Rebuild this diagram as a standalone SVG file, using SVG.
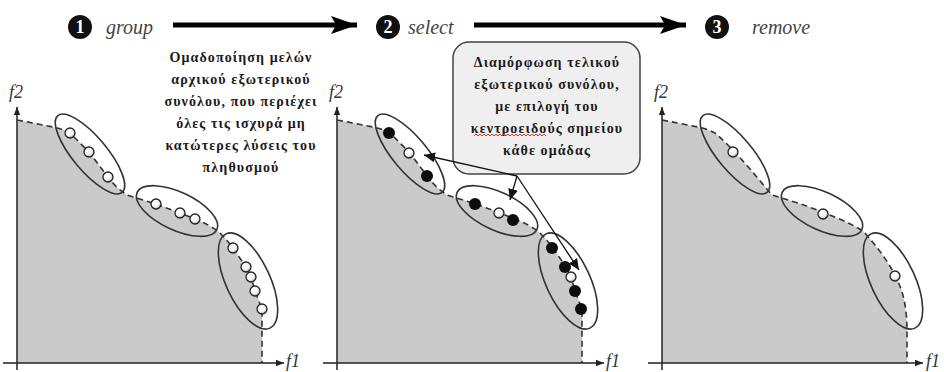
<svg xmlns="http://www.w3.org/2000/svg" width="944" height="372" viewBox="0 0 944 372">
<defs>
<style>
.axis{stroke:#222;stroke-width:1.5;fill:none}
.front{stroke:#333;stroke-width:1.6;stroke-dasharray:6 4;fill:none}
.shade{fill:#cacaca}
.ell{fill:none;stroke:#333;stroke-width:1.6}
.wp{fill:url(#wg);stroke:#222;stroke-width:1.3}
.bp{fill:#0d0d0d}
.lab{font-family:"Liberation Serif","Times New Roman",serif;font-style:italic;font-size:18px;fill:#333}
.step{font-family:"Liberation Serif","Times New Roman",serif;font-style:italic;font-size:20px;fill:#444}
.num{font-family:"Liberation Serif","Times New Roman",serif;font-weight:bold;font-size:18px;fill:#fff;text-anchor:middle}
.gr{font-family:"Liberation Serif","Times New Roman","DejaVu Serif",serif;font-weight:bold;font-size:14px;fill:#1a1a1a;text-anchor:middle;letter-spacing:1.1px}
.big{stroke:#000;stroke-width:5;fill:none}
.ann{stroke:#111;stroke-width:1.3;fill:none}
</style>
<radialGradient id="wg" cx="0.4" cy="0.35" r="0.7">
<stop offset="0" stop-color="#ffffff"/>
<stop offset="0.6" stop-color="#f4f4f4"/>
<stop offset="1" stop-color="#999"/>
</radialGradient>
<marker id="sa" viewBox="0 0 10 10" refX="10" refY="5" markerWidth="8" markerHeight="8" markerUnits="userSpaceOnUse" orient="auto">
<path d="M0,1 L10,5 L0,9 Z" fill="#222"/>
</marker>
<marker id="ah" viewBox="0 0 10 10" refX="10" refY="5" markerWidth="11" markerHeight="11" markerUnits="userSpaceOnUse" orient="auto">
<path d="M0,0.5 L10,5 L0,9.5 Z" fill="#111"/>
</marker>
<marker id="bh" viewBox="0 0 10 10" refX="10" refY="5" markerWidth="26" markerHeight="18" markerUnits="userSpaceOnUse" orient="auto" preserveAspectRatio="none">
<path d="M0,0 L10,5 L0,10 L2,5 Z" fill="#000"/>
</marker>
</defs>

<g id="steps">
<g id="step1"><circle cx="80" cy="27" r="12" fill="#111"/><text class="num" x="80" y="33">1</text><text class="step" x="106" y="34">group</text></g>
<g id="step2"><circle cx="388" cy="27" r="12" fill="#111"/><text class="num" x="388" y="33">2</text><text class="step" x="408" y="34">select</text></g>
<g id="step3"><circle cx="717" cy="27" r="12" fill="#111"/><text class="num" x="717" y="33">3</text><text class="step" x="752" y="34">remove</text></g>
</g>

<g id="panel1">
<path class="shade" d="M17,120 L53,127 Q62,129 70,133 L89,152 L108,177 Q116,188 127,195 L156,204 L180,213 L195,219 Q210,225 219,232 Q228,241 233,248 L246,267 L251,277 L255,291 L262,309 L262,363 L17,363 Z"/>
<path class="front" d="M17,120 L53,127 Q62,129 70,133 L89,152 L108,177 Q116,188 127,195 L156,204 L180,213 L195,219 Q210,225 219,232 Q228,241 233,248 L246,267 L251,277 L255,291 L262,309 L262,363"/>
<path class="axis" d="M17,370 L17,107" marker-end="url(#sa)"/>
<path class="axis" d="M3,363 L284,363" marker-end="url(#sa)"/>
<text class="lab" x="9" y="98">f2</text>
<text class="lab" x="286" y="367">f1</text>
<ellipse class="ell" cx="90" cy="154" rx="50" ry="17" transform="rotate(50 90 154)"/>
<ellipse class="ell" cx="177" cy="211" rx="44" ry="19" transform="rotate(25 177 211)"/>
<ellipse class="ell" cx="248" cy="281" rx="52" ry="22" transform="rotate(65 248 281)"/>
<circle class="wp" cx="70" cy="133" r="5"/>
<circle class="wp" cx="89" cy="152" r="5"/>
<circle class="wp" cx="108" cy="177" r="5"/>
<circle class="wp" cx="156" cy="204" r="5"/>
<circle class="wp" cx="180" cy="213" r="5"/>
<circle class="wp" cx="195" cy="219" r="5"/>
<circle class="wp" cx="233" cy="248" r="5"/>
<circle class="wp" cx="246" cy="267" r="5"/>
<circle class="wp" cx="251" cy="277" r="5"/>
<circle class="wp" cx="255" cy="291" r="5"/>
<circle class="wp" cx="262" cy="309" r="5"/>
</g>

<g id="panel2" transform="translate(320,0)">
<path class="shade" d="M17,120 L53,127 Q62,129 70,133 L89,152 L108,177 Q116,188 127,195 L156,204 L180,213 L195,219 Q210,225 219,232 Q228,241 233,248 L246,267 L251,277 L255,291 L262,309 L262,363 L17,363 Z"/>
<path class="front" d="M17,120 L53,127 Q62,129 70,133 L89,152 L108,177 Q116,188 127,195 L156,204 L180,213 L195,219 Q210,225 219,232 Q228,241 233,248 L246,267 L251,277 L255,291 L262,309 L262,363"/>
<path class="axis" d="M17,370 L17,107" marker-end="url(#sa)"/>
<path class="axis" d="M3,363 L284,363" marker-end="url(#sa)"/>
<text class="lab" x="9" y="98">f2</text>
<text class="lab" x="286" y="367">f1</text>
<ellipse class="ell" cx="90" cy="154" rx="50" ry="17" transform="rotate(50 90 154)"/>
<ellipse class="ell" cx="177" cy="211" rx="44" ry="19" transform="rotate(25 177 211)"/>
<ellipse class="ell" cx="248" cy="281" rx="52" ry="22" transform="rotate(65 248 281)"/>
<circle class="bp" cx="69" cy="133" r="6"/>
<circle class="wp" cx="89" cy="153" r="5"/>
<circle class="bp" cx="107" cy="176" r="6"/>
<circle class="bp" cx="155" cy="204" r="6"/>
<circle class="wp" cx="179" cy="213" r="5"/>
<circle class="bp" cx="193" cy="220" r="6"/>
<circle class="bp" cx="232" cy="248" r="6"/>
<circle class="bp" cx="245" cy="267" r="6"/>
<circle class="wp" cx="251" cy="277" r="5"/>
<circle class="bp" cx="255" cy="291" r="6"/>
<circle class="bp" cx="261" cy="309" r="6"/>
</g>

<g id="panel3" transform="translate(645,0)">
<path class="shade" d="M17,120 L53,127 Q62,129 70,133 C90,150 110,175 127,195 L156,204 C175,211 205,222 219,232 C235,250 250,270 257,292 C261,305 262,320 262,330 L262,363 L17,363 Z"/>
<path class="front" d="M17,120 L53,127 Q62,129 70,133 C90,150 110,175 127,195 L156,204 C175,211 205,222 219,232 C235,250 250,270 257,292 C261,305 262,320 262,330 L262,363"/>
<path class="axis" d="M17,370 L17,107" marker-end="url(#sa)"/>
<path class="axis" d="M3,363 L278,363" marker-end="url(#sa)"/>
<text class="lab" x="9" y="98">f2</text>
<text class="lab" x="281" y="367">f1</text>
<ellipse class="ell" cx="90" cy="154" rx="50" ry="17" transform="rotate(50 90 154)"/>
<ellipse class="ell" cx="177" cy="211" rx="44" ry="19" transform="rotate(25 177 211)"/>
<ellipse class="ell" cx="248" cy="281" rx="52" ry="22" transform="rotate(65 248 281)"/>
<circle class="wp" cx="88" cy="152" r="5"/>
<circle class="wp" cx="178" cy="214" r="5"/>
<circle class="wp" cx="250" cy="276" r="5"/>
</g>

<g id="note1">
<text class="gr" x="241"><tspan x="241" y="62">Ομαδοποίηση μελών</tspan><tspan x="241" y="84">αρχικού εξωτερικού</tspan><tspan x="241" y="106">συνόλου, που περιέχει</tspan><tspan x="241" y="128">όλες τις ισχυρά μη</tspan><tspan x="241" y="150">κατώτερες λύσεις του</tspan><tspan x="241" y="172">πληθυσμού</tspan></text>
</g>

<g id="note2">
<rect x="453" y="42" width="187" height="132" rx="16" fill="#efefef" stroke="#444" stroke-width="1.5"/>
<text class="gr" x="547"><tspan x="547" y="67">Διαμόρφωση τελικού</tspan><tspan x="547" y="89">εξωτερικού συνόλου,</tspan><tspan x="547" y="111">με επιλογή του</tspan><tspan x="547" y="133">κεντροειδούς σημείου</tspan><tspan x="547" y="155">κάθε ομάδας</tspan></text>
<path d="M474,136 l2,-2 l2,2 l2,-2 l2,2 l2,-2 l2,2 l2,-2 l2,2 l2,-2 l2,2 l2,-2 l2,2 l2,-2 l2,2 l2,-2 l2,2 l2,-2 l2,2 l2,-2 l2,2 l2,-2 l2,2 l2,-2 l2,2 l2,-2 l2,2 l2,-2 l2,2 l2,-2 l2,2 l2,-2 l2,2 l2,-2 l2,2 l2,-2 l2,2" fill="none" stroke="#d02020" stroke-width="0.9"/>
</g>

<g id="connectors">
<path class="big" d="M173,25 L357,25" marker-end="url(#bh)"/>
<path class="big" d="M474,25 L686,25" marker-end="url(#bh)"/>
<path class="ann" d="M517,176 L424,155" marker-end="url(#ah)"/>
<path class="ann" d="M517,176 L510,200" marker-end="url(#ah)"/>
<path class="ann" d="M517,176 L579,270" marker-end="url(#ah)"/>
</g>
</svg>
